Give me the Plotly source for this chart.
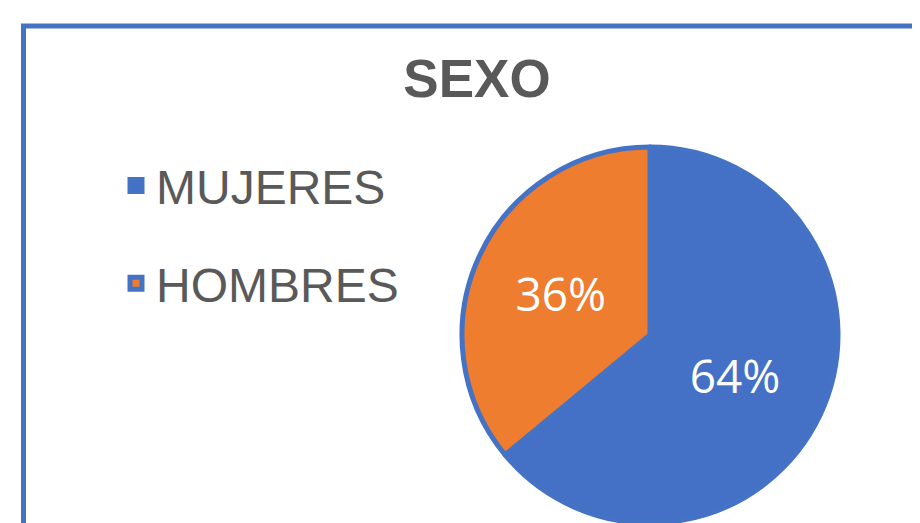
import plotly.graph_objects as go

labels = ["MUJERES", "HOMBRES"]
values = [64, 36]
colors = ["#4471C6", "#EE7D30"]
title_text = "SEXO"

# The page body adds an 8px margin, so the figure is sized to fit the window.
W, H = 912, 515
OFF = 8

# legend rows are spaced by a large legend font; the visible label text is 48px
LEGEND_ROW_FONT = 73
legend_labels = [
    f"<span style='font-size:48px;baseline-shift:10px'>{lab}</span>" for lab in labels
]


def px(x):
    return (x - OFF) / W


def py(y):
    return 1 - (y - OFF) / H


fig = go.Figure()
fig.add_trace(go.Pie(
    labels=legend_labels,
    values=values,
    customdata=labels,
    sort=False,
    direction="clockwise",
    rotation=0,
    marker=dict(colors=colors, line=dict(color="#4472C4", width=5)),
    texttemplate="%{percent:.0%}",
    textposition="inside",
    insidetextorientation="horizontal",
    textfont=dict(family="Open Sans", size=46, color="white"),
    domain=dict(x=[px(462), px(838)], y=[0, py(147)]),
    hovertemplate="%{customdata}: %{percent:.0%}<extra></extra>",
))

# chart frame (blue border running off the right and bottom of the window)
fx = px(23.5)
fy = py(26)
fig.add_shape(type="path", xref="paper", yref="paper",
              path=f"M {fx},-0.1 L {fx},{fy} L 1.1,{fy}",
              line=dict(color="#4472C4", width=5), fillcolor="rgba(0,0,0,0)",
              layer="below")

fig.update_layout(
    width=W, height=H,
    margin=dict(l=0, r=0, t=0, b=0),
    paper_bgcolor="white",
    plot_bgcolor="white",
    title=dict(text="<b>" + title_text + "</b>", x=px(477), xanchor="center",
               y=py(78), yanchor="middle",
               font=dict(family="Liberation Sans", size=53, color="#595959")),
    showlegend=True,
    legend=dict(x=px(116), xanchor="left", y=py(234.5), yanchor="middle",
                font=dict(family="Liberation Sans", size=LEGEND_ROW_FONT, color="#595959"),
                bgcolor="rgba(0,0,0,0)"),
)

fig.write_html("out.html")
